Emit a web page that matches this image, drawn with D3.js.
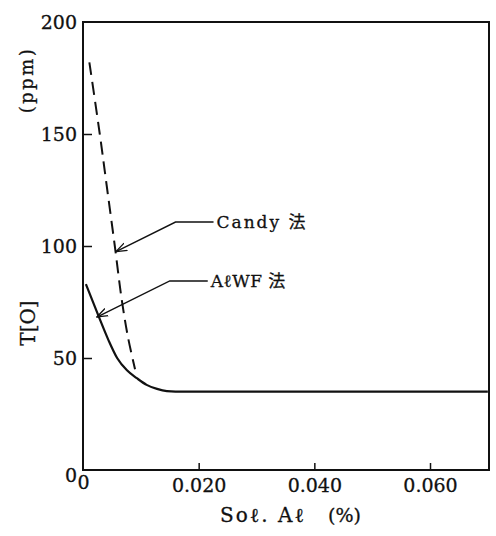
<!DOCTYPE html>
<html>
<head>
<meta charset="utf-8">
<script src="https://cdn.jsdelivr.net/npm/d3@7"></script>
<style>
  html, body { margin: 0; padding: 0; background: #fff; }
  svg text { font-family: "DejaVu Serif", "Liberation Serif", "Noto Sans CJK JP", serif; fill: #111; stroke: #111; stroke-width: 0.3px; }
</style>
</head>
<body>
<svg id="chart" width="496" height="536"></svg>
<script>
  // data
  var xTicks = [0, 0.020, 0.040, 0.060];
  var xTickLabels = ["0", "0.020", "0.040", "0.060"];
  var yTicks = [0, 50, 100, 150, 200];
  var yTickLabels = ["0", "50", "100", "150", "200"];

  // AℓWF法 (solid)
  var alwfX = [0.0005, 0.0028, 0.0044, 0.0059, 0.0076, 0.0093, 0.0110, 0.0128, 0.0145, 0.0160, 0.070];
  var alwfY = [83, 68, 58, 50, 44.5, 41, 38, 36.2, 35.2, 35, 35];
  // Candy法 (dashed)
  var candyX = [0.0011, 0.0029, 0.0042, 0.0055, 0.0067, 0.0078, 0.0090];
  var candyY = [182, 150, 125, 100, 76, 59, 45];

  // callouts: tip and elbow in data units
  var labels = ["Candy 法", "AℓWF 法"];
  var labelTip = [[0.0057, 97.5], [0.0024, 68.3]];
  var labelElbow = [[0.0160, 110.7], [0.0150, 84.4]];

  var margin = {top: 22, right: 7, bottom: 66, left: 83},
      width = 496 - margin.left - margin.right,
      height = 536 - margin.top - margin.bottom;

  var svg = d3.select("#chart");
  var defs = svg.append("defs");
  defs.append("marker")
      .attr("id", "arrow")
      .attr("viewBox", "0 0 12 10")
      .attr("refX", 11).attr("refY", 5)
      .attr("markerWidth", 12).attr("markerHeight", 10)
      .attr("markerUnits", "userSpaceOnUse")
      .attr("orient", "auto")
      .append("path")
      .attr("d", "M0,1 L11,5 L0,9")
      .attr("fill", "none")
      .attr("stroke", "#111")
      .attr("stroke-width", 1.3);

  var g = svg.append("g").attr("transform", "translate(" + margin.left + "," + margin.top + ")");

  var x = d3.scaleLinear().domain([0, 0.0702]).range([0, width]);
  var y = d3.scaleLinear().domain([0, 200]).range([height, 0]);

  // axes with inside ticks
  var xAxis = g.append("g")
      .attr("transform", "translate(0," + height + ")")
      .call(d3.axisBottom(x).tickValues(xTicks).tickSize(-7).tickPadding(9)
        .tickFormat(function(d, i) { return xTickLabels[i]; }));
  xAxis.select(".domain").remove();
  xAxis.selectAll("line").attr("stroke", "#111").attr("stroke-width", 1.5);
  xAxis.selectAll("text").attr("font-size", 19).attr("fill", "#111");
  xAxis.selectAll(".tick").filter(function(d) { return d === 0; }).select("line").remove();
  xAxis.selectAll(".tick").filter(function(d) { return d === 0; }).select("text").attr("dy", "0.5em");

  var yAxis = g.append("g")
      .call(d3.axisLeft(y).tickValues(yTicks).tickSize(-9).tickPadding(6)
        .tickFormat(function(d, i) { return yTickLabels[i]; }));
  yAxis.select(".domain").remove();
  yAxis.selectAll("line").attr("stroke", "#111").attr("stroke-width", 1.5);
  yAxis.selectAll("text").attr("font-size", 19).attr("fill", "#111");
  yAxis.selectAll(".tick").filter(function(d) { return d === 0 || d === 200; }).select("line").remove();
  yAxis.selectAll(".tick").filter(function(d) { return d === 0; }).select("text").attr("dy", "0.6em");

  // frame
  g.append("rect")
      .attr("x", 0).attr("y", 0)
      .attr("width", width).attr("height", height)
      .attr("fill", "none")
      .attr("stroke", "#111")
      .attr("stroke-width", 2);

  var line = d3.line()
      .x(function(d) { return x(d[0]); })
      .y(function(d) { return y(d[1]); })
      .curve(d3.curveMonotoneX);

  g.append("path")
      .datum(alwfX.map(function(v, i) { return [v, alwfY[i]]; }))
      .attr("d", line)
      .attr("fill", "none")
      .attr("stroke", "#111")
      .attr("stroke-width", 2.2);

  g.append("path")
      .datum(candyX.map(function(v, i) { return [v, candyY[i]]; }))
      .attr("d", d3.line().x(function(d) { return x(d[0]); }).y(function(d) { return y(d[1]); }).curve(d3.curveCatmullRom))
      .attr("fill", "none")
      .attr("stroke", "#111")
      .attr("stroke-width", 2)
      .attr("stroke-dasharray", "13,7");

  // callouts
  labels.forEach(function(txt, i) {
    var tip = labelTip[i], elb = labelElbow[i];
    var ex = x(elb[0]), ey = y(elb[1]);
    g.append("path")
        .attr("d", "M" + (ex + 38) + "," + ey + " L" + ex + "," + ey + " L" + x(tip[0]) + "," + y(tip[1]))
        .attr("fill", "none")
        .attr("stroke", "#111")
        .attr("stroke-width", 1.4)
        .attr("marker-end", "url(#arrow)");
    g.append("text")
        .attr("x", ex + 41)
        .attr("y", ey)
        .attr("dy", "0.35em")
        .attr("font-size", 17)
        .style("letter-spacing", i === 0 ? "2px" : "0.5px")
        .text(txt);
  });

  // axis titles
  svg.append("text")
      .attr("transform", "translate(33,80) rotate(-90)")
      .attr("text-anchor", "middle")
      .attr("font-size", 18)
      .style("letter-spacing", "2.5px")
      .text("(ppm)");
  svg.append("text")
      .attr("transform", "translate(35,323) rotate(-90)")
      .attr("text-anchor", "middle")
      .attr("font-size", 20)
      .text("T[O]");
  svg.append("text")
      .attr("x", 220)
      .attr("y", 522)
      .attr("font-size", 20)
      .style("letter-spacing", "2px")
      .text("Soℓ. Aℓ");
  svg.append("text")
      .attr("x", 328)
      .attr("y", 522)
      .attr("font-size", 19)
      .text("(%)");
</script>
</body>
</html>
